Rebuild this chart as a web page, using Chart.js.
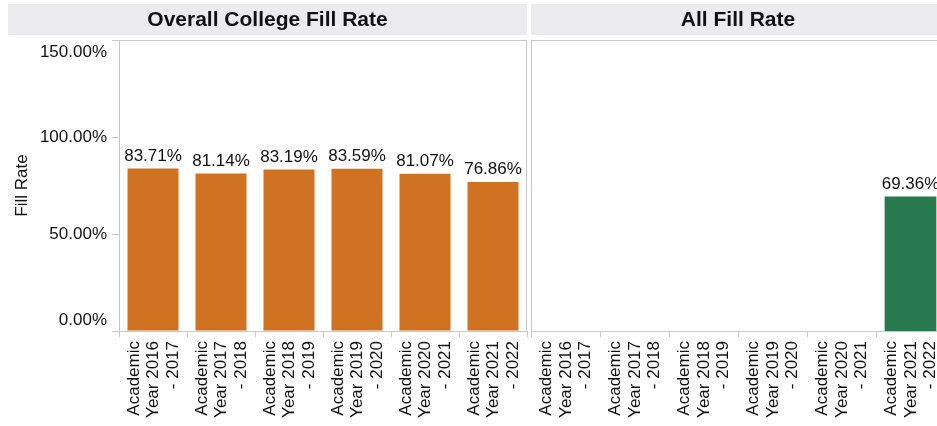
<!DOCTYPE html>
<html lang="en">
<head>
    <meta charset="UTF-8">
    <title>Fill Rate</title>
    <script src="https://cdn.jsdelivr.net/npm/chart.js"></script>
    <style>
        body { margin: 0; width: 937px; height: 426px; overflow: hidden; background: #fff; position: relative; }
        .panel { position: absolute; top: 0; height: 426px; }
        #left { left: 0; width: 528px; }
        #right { left: 529px; width: 416px; }
    </style>
</head>
<body>
    <div class="panel" id="left"><canvas id="collegeChart"></canvas></div>
    <div class="panel" id="right"><canvas id="allChart"></canvas></div>

    <script>
        // data
        const categories = [
            ["Academic", "Year 2016", "- 2017"],
            ["Academic", "Year 2017", "- 2018"],
            ["Academic", "Year 2018", "- 2019"],
            ["Academic", "Year 2019", "- 2020"],
            ["Academic", "Year 2020", "- 2021"],
            ["Academic", "Year 2021", "- 2022"]
        ];
        const collegeRates = [83.71, 81.14, 83.19, 83.59, 81.07, 76.86];
        const allRates = [null, null, null, null, null, 69.36];
        const yTicks = [0, 50, 100, 150];

        const FONT = "'Liberation Sans', Arial, sans-serif";
        const LINE = "#c8c8c8";

        // grey header band with the panel title, plus top/right frame lines
        const headerPlugin = {
            id: "header",
            beforeDraw(chart, args, opts) {
                let ctx = chart.ctx;
                let w = chart.width - opts.x0 - opts.x1;
                ctx.save();
                ctx.fillStyle = "#ececee";
                ctx.fillRect(opts.x0, 4, w, 31);
                ctx.fillStyle = "#111";
                ctx.font = "bold 21px " + FONT;
                ctx.textAlign = "center";
                ctx.textBaseline = "middle";
                ctx.fillText(opts.text, opts.x0 + w / 2, 20);
                ctx.restore();
            },
            afterDraw(chart, args, opts) {
                let ctx = chart.ctx;
                let a = chart.chartArea;
                ctx.save();
                ctx.strokeStyle = LINE;
                ctx.lineWidth = 1;
                ctx.beginPath();
                ctx.moveTo(a.left, a.top + 0.5);
                ctx.lineTo(a.right, a.top + 0.5);
                if (opts.rightBorder) {
                    ctx.moveTo(a.right - 0.5, a.top);
                    ctx.lineTo(a.right - 0.5, a.bottom);
                }
                ctx.stroke();
                ctx.restore();
            }
        };

        // value labels above the bars
        const valueLabels = {
            id: "valueLabels",
            afterDatasetsDraw(chart) {
                let ctx = chart.ctx;
                ctx.save();
                ctx.font = "17px " + FONT;
                ctx.fillStyle = "#111";
                ctx.textAlign = "center";
                ctx.textBaseline = "bottom";
                chart.getDatasetMeta(0).data.forEach((bar, i) => {
                    let v = chart.data.datasets[0].data[i];
                    if (v === null) return;
                    ctx.fillText(v.toFixed(2) + "%", bar.x, bar.y - 4);
                });
                ctx.restore();
            }
        };

        function makeOptions(isLeft) {
            return {
                responsive: true,
                maintainAspectRatio: false,
                animation: false,
                layout: { padding: { top: 40, right: isLeft ? 1 : 0, left: 0, bottom: 0 } },
                plugins: {
                    legend: { display: false },
                    tooltip: { enabled: false },
                    header: {
                        text: isLeft ? "Overall College Fill Rate" : "All Fill Rate",
                        x0: isLeft ? 8 : 2,
                        x1: isLeft ? 1 : 0,
                        rightBorder: isLeft
                    }
                },
                scales: {
                    x: {
                        grid: { drawOnChartArea: false, tickLength: 6, color: LINE },
                        border: { color: LINE },
                        ticks: {
                            maxRotation: 90,
                            minRotation: 90,
                            autoSkip: false,
                            padding: 4,
                            labelOffset: -19,
                            color: "#111",
                            font: { family: FONT, size: 17, lineHeight: 1.15 }
                        },
                        afterFit(scale) {
                            scale.height = 95;
                            scale.paddingLeft = 0;
                            scale.paddingRight = 0;
                        }
                    },
                    y: {
                        min: 0,
                        max: 150,
                        afterBuildTicks(scale) { scale.ticks = yTicks.map(v => ({ value: v })); },
                        grid: { display: isLeft, drawOnChartArea: false, tickLength: 7, color: LINE },
                        border: { color: LINE },
                        title: {
                            display: isLeft,
                            text: "Fill Rate",
                            color: "#111",
                            padding: { top: 12, bottom: 0 },
                            font: { family: FONT, size: 17 }
                        },
                        ticks: {
                            display: isLeft,
                            padding: 5,
                            color: "#111",
                            // the end labels sit inside the axis, nudged by an empty line
                            font: (c) => ({ family: FONT, size: 17, lineHeight: c.tick && c.tick.value === 0 ? 1.2 : 1.5 }),
                            callback(value) {
                                let s = value.toFixed(2) + "%";
                                if (value === 150) return ["", s];
                                if (value === 0) return [s, ""];
                                return s;
                            }
                        },
                        afterFit(scale) {
                            scale.width = isLeft ? 119 : 2;
                            scale.paddingTop = 0;
                            scale.paddingBottom = 0;
                        }
                    }
                }
            };
        }

        new Chart(document.getElementById("collegeChart"), {
            type: "bar",
            data: {
                labels: categories,
                datasets: [{
                    data: collegeRates,
                    backgroundColor: "#cf7322",
                    categoryPercentage: 1,
                    barPercentage: 0.75
                }]
            },
            options: makeOptions(true),
            plugins: [headerPlugin, valueLabels]
        });

        new Chart(document.getElementById("allChart"), {
            type: "bar",
            data: {
                labels: categories,
                datasets: [{
                    data: allRates,
                    backgroundColor: "#287a4e",
                    categoryPercentage: 1,
                    barPercentage: 0.75
                }]
            },
            options: makeOptions(false),
            plugins: [headerPlugin, valueLabels]
        });
    </script>
</body>
</html>
